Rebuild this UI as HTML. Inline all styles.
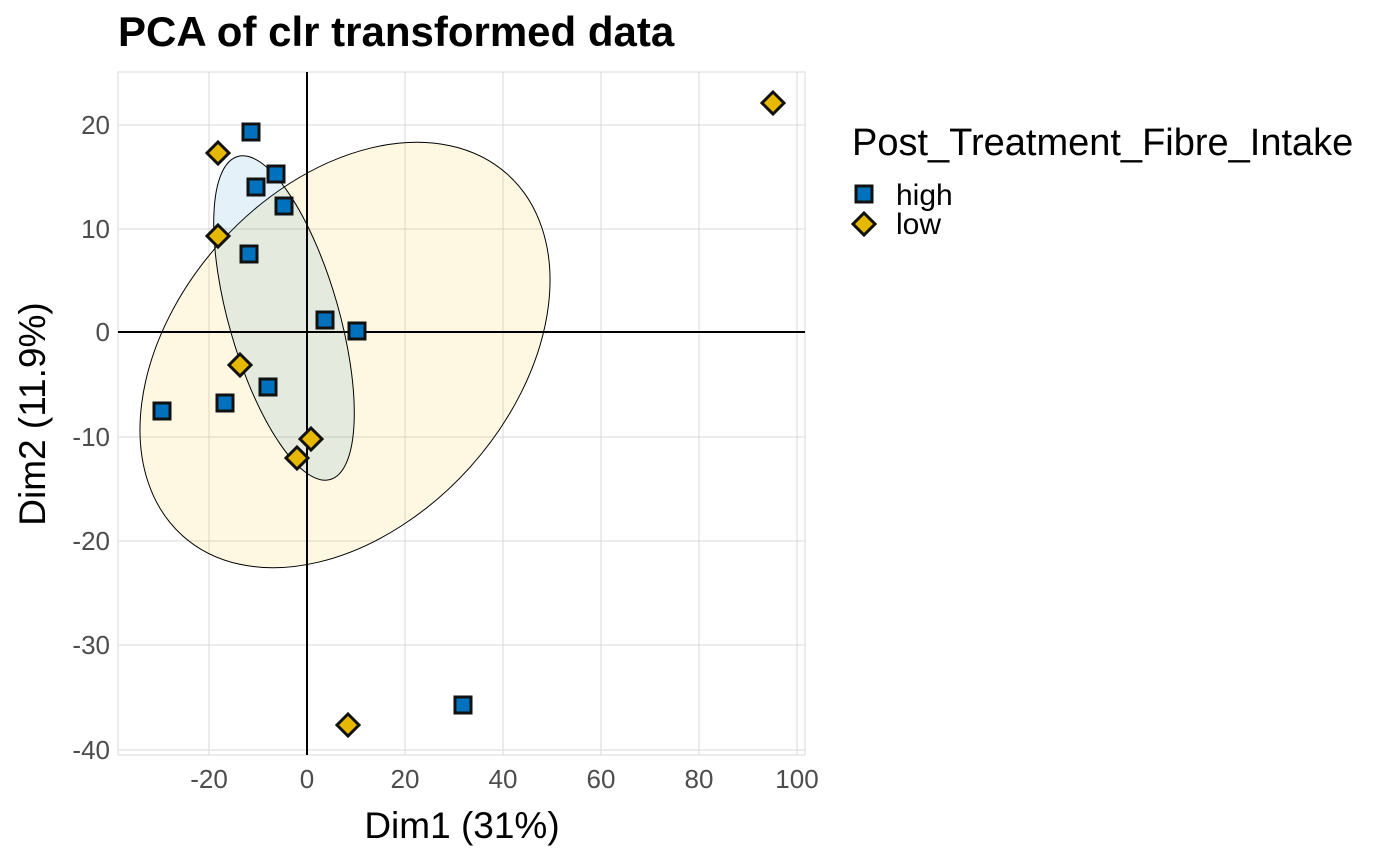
<!DOCTYPE html>
<html><head><meta charset="utf-8"><style>body{margin:0;background:#fff}</style></head><body>
<svg width="1400" height="860" xmlns="http://www.w3.org/2000/svg" font-family="Liberation Sans, sans-serif">
<rect width="1400" height="860" fill="#fff"/>
<rect x="118" y="72" width="687" height="683" fill="none" stroke="#d9d9d9" stroke-width="1"/>
<g stroke="#d9d9d9" stroke-width="1">
<line x1="209" y1="72" x2="209" y2="755"/><line x1="405" y1="72" x2="405" y2="755"/><line x1="503" y1="72" x2="503" y2="755"/><line x1="601" y1="72" x2="601" y2="755"/><line x1="699" y1="72" x2="699" y2="755"/><line x1="797" y1="72" x2="797" y2="755"/>
<line x1="118" y1="125" x2="805" y2="125"/><line x1="118" y1="229" x2="805" y2="229"/><line x1="118" y1="437" x2="805" y2="437"/><line x1="118" y1="541" x2="805" y2="541"/><line x1="118" y1="645" x2="805" y2="645"/><line x1="118" y1="750" x2="805" y2="750"/>
</g>
<ellipse cx="345" cy="355" rx="243" ry="168" transform="rotate(-48 345 355)" fill="#f5c518" fill-opacity="0.12" stroke="#000" stroke-width="1"/>
<ellipse cx="284" cy="318" rx="55" ry="168" transform="rotate(-16 284 318)" fill="#0072bd" fill-opacity="0.1" stroke="#000" stroke-width="1"/>
<line x1="307" y1="72" x2="307" y2="755" stroke="#000" stroke-width="2"/>
<line x1="118" y1="332" x2="805" y2="332" stroke="#000" stroke-width="2"/>
<g fill="#0072bd" stroke="#111" stroke-width="3">
<rect x="243" y="124" width="16" height="16"/><rect x="268" y="166" width="16" height="16"/><rect x="248" y="179" width="16" height="16"/><rect x="276" y="198" width="16" height="16"/><rect x="241" y="246" width="16" height="16"/><rect x="317" y="312" width="16" height="16"/><rect x="349" y="323" width="16" height="16"/><rect x="260" y="379" width="16" height="16"/><rect x="217" y="395" width="16" height="16"/><rect x="154" y="403" width="16" height="16"/><rect x="455" y="697" width="16" height="16"/>
</g>
<g fill="#e6b800" stroke="#111" stroke-width="3">
<path d="M773 92l11 11-11 11-11-11z"/><path d="M218 142l11 11-11 11-11-11z"/><path d="M218 225l11 11-11 11-11-11z"/><path d="M240 354l11 11-11 11-11-11z"/><path d="M311 428l11 11-11 11-11-11z"/><path d="M297 447l11 11-11 11-11-11z"/><path d="M348 714l11 11-11 11-11-11z"/>
</g>
<g font-size="26" fill="#4d4d4d" text-anchor="end">
<text x="110" y="134">20</text><text x="110" y="238">10</text><text x="110" y="341">0</text><text x="110" y="446">-10</text><text x="110" y="550">-20</text><text x="110" y="654">-30</text><text x="110" y="759">-40</text>
</g>
<g font-size="26" fill="#4d4d4d" text-anchor="middle">
<text x="209" y="788">-20</text><text x="307" y="788">0</text><text x="405" y="788">20</text><text x="503" y="788">40</text><text x="601" y="788">60</text><text x="699" y="788">80</text><text x="797" y="788">100</text>
</g>
<text x="462" y="838" font-size="37" text-anchor="middle" fill="#000">Dim1 (31%)</text>
<text transform="translate(45 414) rotate(-90)" font-size="37" text-anchor="middle" fill="#000">Dim2 (11.9%)</text>
<text x="118" y="46" font-size="42" font-weight="bold" fill="#000">PCA of clr transformed data</text>
<text x="852" y="155" font-size="38" fill="#000">Post_Treatment_Fibre_Intake</text>
<rect x="856" y="186" width="16" height="16" fill="#0072bd" stroke="#111" stroke-width="3"/>
<path d="M864 213l11 11-11 11-11-11z" fill="#e6b800" stroke="#111" stroke-width="3"/>
<text x="896" y="205" font-size="30" fill="#000">high</text>
<text x="896" y="234" font-size="30" fill="#000">low</text>
</svg>
</body></html>
